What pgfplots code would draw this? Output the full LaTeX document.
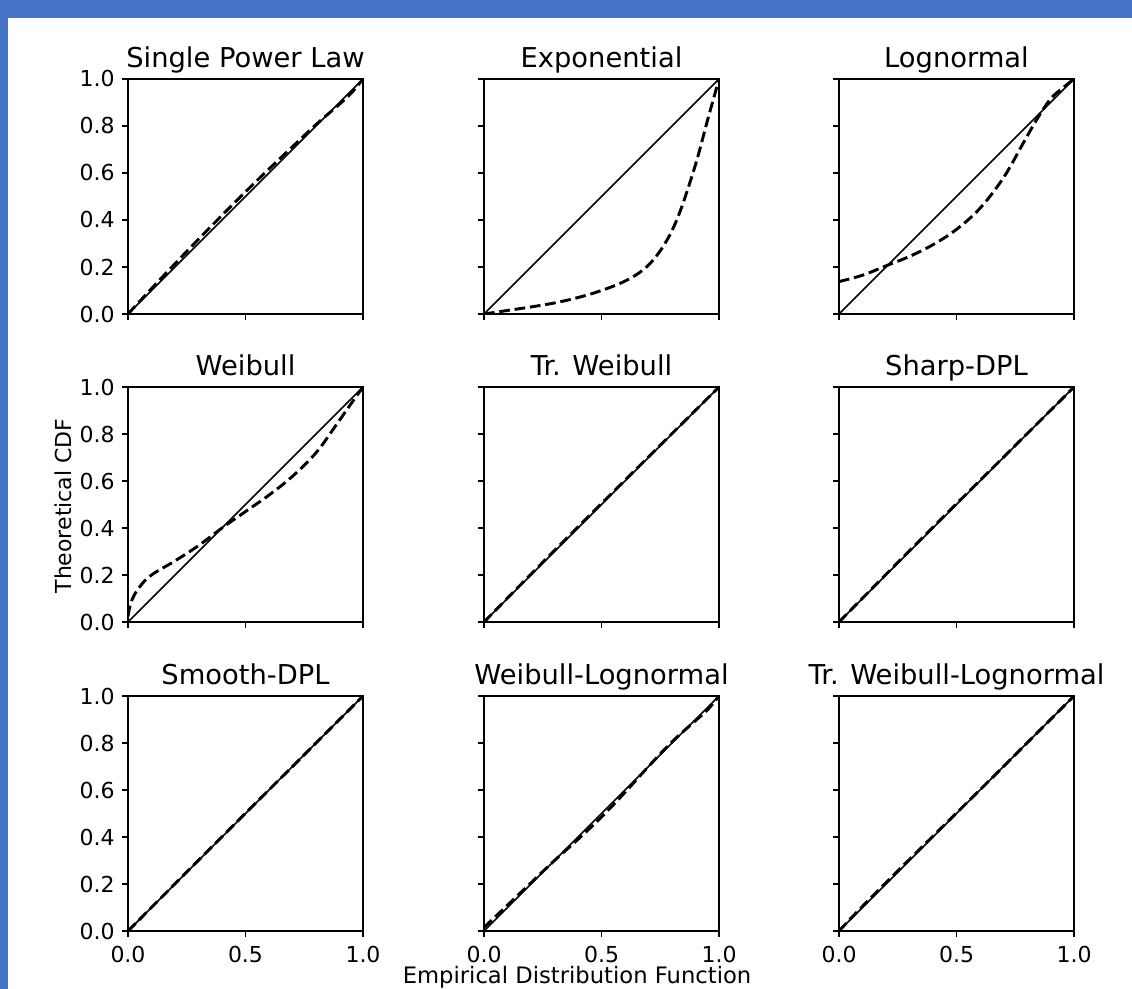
\documentclass[border=0pt]{standalone}
\usepackage{pgfplots}
\pgfplotsset{compat=1.18}
\usepackage{fontspec}
\setmainfont{DejaVu Sans}
\definecolor{banner}{HTML}{4472C4}

\pgfplotsset{
  panel/.style={
    scale only axis, width=176.25pt, height=176.25pt,
    xmin=0, xmax=1, ymin=0, ymax=1,
    xtick={0,0.5,1}, ytick={0,0.2,0.4,0.6,0.8,1},
    tick align=outside, major tick length=4.5pt,
    axis line style={line width=0.9pt},
    every tick/.style={black, line width=0.9pt},
    xtick pos=bottom, ytick pos=left,
    /pgf/number format/.cd, fixed, fixed zerofill, precision=1, assume math mode=true,
    /pgfplots/.cd,
    tick label style={font=\fontsize{16.5}{19}\selectfont},
    xticklabel style={yshift=-3.5pt},
    yticklabel style={xshift=-2pt},
    title style={font=\fontsize{20.5}{24}\selectfont, at={(0.5,1)}, anchor=base, yshift=2.5pt},
  },
  diag/.style={black, line width=1.1pt},
  fit/.style={black, line width=2.2pt, dash pattern=on 8pt off 3.6pt, smooth, tension=0.6},
}

\begin{document}
\begin{tikzpicture}
\useasboundingbox (0,0) rectangle (849pt,741.75pt);
\fill[banner] (0,728.25pt) rectangle (849pt,741.75pt);
\fill[banner] (0,0) rectangle (6pt,741.75pt);

% row 1
\begin{axis}[panel, at={(96pt,506.25pt)}, title={Single Power Law}, xticklabels={}]
\addplot[diag] coordinates {(0,0) (1,1)};
\addplot[fit] coordinates {(0,0) (0.1,0.108) (0.2,0.214) (0.3,0.318) (0.4,0.42) (0.5,0.52) (0.6,0.617) (0.7,0.712) (0.8,0.806) (0.9,0.893) (0.95,0.94) (1,1)};
\end{axis}
\begin{axis}[panel, at={(363pt,506.25pt)}, title={Exponential}, xticklabels={}, yticklabels={}]
\addplot[diag] coordinates {(0,0) (1,1)};
\addplot[fit] coordinates {(0,0) (0.1,0.015) (0.2,0.03) (0.3,0.047) (0.4,0.07) (0.5,0.1) (0.6,0.14) (0.68,0.19) (0.74,0.255) (0.79,0.335) (0.83,0.425) (0.87,0.54) (0.91,0.67) (0.95,0.82) (1,1)};
\end{axis}
\begin{axis}[panel, at={(629.25pt,506.25pt)}, title={Lognormal}, xticklabels={}, yticklabels={}]
\addplot[diag] coordinates {(0,0) (1,1)};
\addplot[fit] coordinates {(0,0.138) (0.1,0.165) (0.2,0.205) (0.3,0.245) (0.4,0.295) (0.5,0.36) (0.6,0.45) (0.7,0.58) (0.78,0.72) (0.84,0.825) (0.9,0.915) (0.95,0.96) (1,1)};
\end{axis}

% row 2
\begin{axis}[panel, at={(96pt,275.25pt)}, title={Weibull}, xticklabels={}]
\addplot[diag] coordinates {(0,0) (1,1)};
\addplot[fit] coordinates {(0,0.025) (0.015,0.09) (0.05,0.15) (0.1,0.2) (0.2,0.26) (0.3,0.325) (0.4,0.4) (0.5,0.47) (0.6,0.54) (0.7,0.62) (0.8,0.72) (0.88,0.83) (0.95,0.93) (1,1)};
\end{axis}
\begin{axis}[panel, at={(363pt,275.25pt)}, title={Tr. Weibull}, xticklabels={}, yticklabels={}]
\addplot[diag] coordinates {(0,0) (1,1)};
\addplot[fit] coordinates {(0,0) (0.25,0.254) (0.5,0.504) (0.75,0.752) (1,1)};
\end{axis}
\begin{axis}[panel, at={(629.25pt,275.25pt)}, title={Sharp-DPL}, xticklabels={}, yticklabels={}]
\addplot[diag] coordinates {(0,0) (1,1)};
\addplot[fit] coordinates {(0,0) (0.25,0.253) (0.5,0.503) (0.75,0.751) (1,1)};
\end{axis}

% row 3
\begin{axis}[panel, at={(96pt,43.5pt)}, title={Smooth-DPL}]
\addplot[diag] coordinates {(0,0) (1,1)};
\addplot[fit] coordinates {(0,0) (0.25,0.251) (0.5,0.501) (0.75,0.75) (1,1)};
\end{axis}
\begin{axis}[panel, at={(363pt,43.5pt)}, title={Weibull-Lognormal}, yticklabels={}]
\addplot[diag] coordinates {(0,0) (1,1)};
\addplot[fit] coordinates {(0,0.015) (0.1,0.11) (0.2,0.205) (0.3,0.3) (0.4,0.39) (0.5,0.485) (0.6,0.59) (0.7,0.7) (0.8,0.805) (0.9,0.895) (0.95,0.94) (1,1)};
\end{axis}
\begin{axis}[panel, at={(629.25pt,43.5pt)}, title={Tr. Weibull-Lognormal}, yticklabels={}]
\addplot[diag] coordinates {(0,0) (1,1)};
\addplot[fit] coordinates {(0,0) (0.1,0.105) (0.3,0.305) (0.5,0.502) (0.7,0.7) (1,1)};
\end{axis}

\node[rotate=90, font=\fontsize{16.5}{20}\selectfont] at (47.25pt,362.25pt) {Theoretical CDF};
\node[font=\fontsize{17}{20}\selectfont] at (432.75pt,9pt) {Empirical Distribution Function};
\end{tikzpicture}
\end{document}
